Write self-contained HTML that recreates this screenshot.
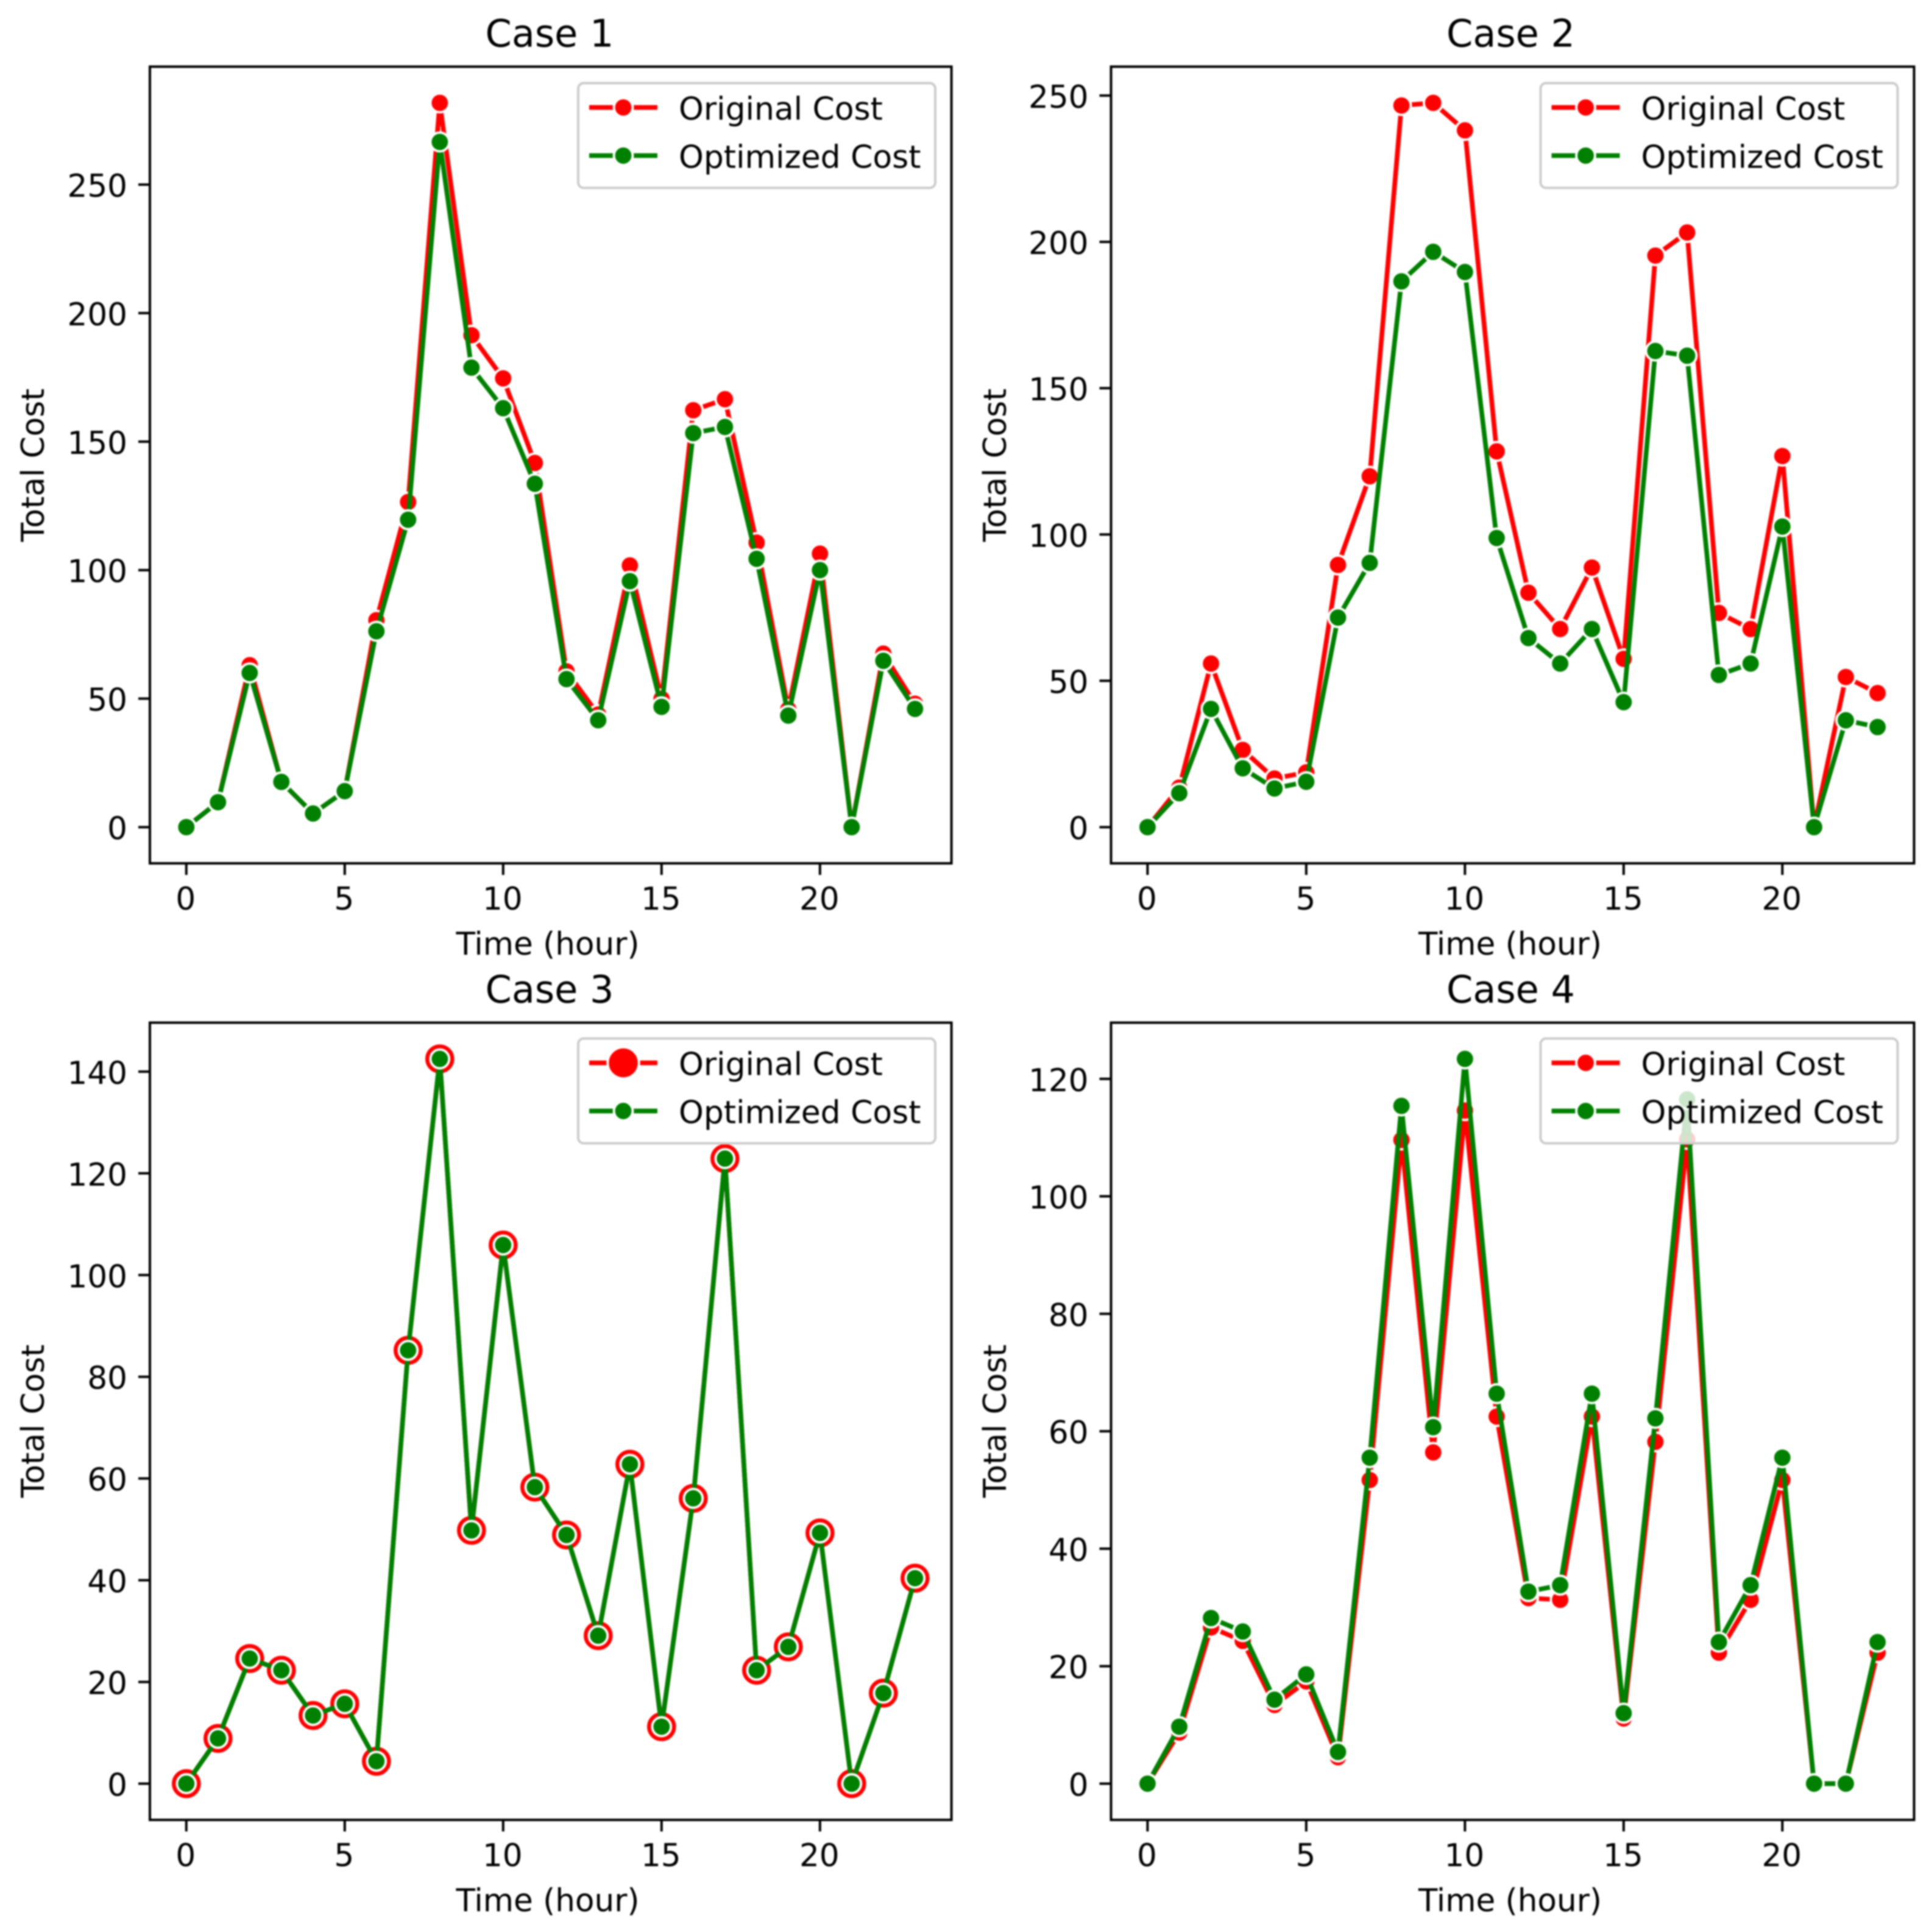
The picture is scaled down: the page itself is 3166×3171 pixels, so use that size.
<!DOCTYPE html>
<html lang="en">
<head>
<meta charset="utf-8">
<title>Original vs Optimized Cost by Case</title>
<style>
html,body{margin:0;padding:0;background:#fff;width:3166px;height:3171px;overflow:hidden}
svg{display:block;filter:blur(1.2px)}
text{font-family:"DejaVu Sans","Liberation Sans",sans-serif;fill:#000}
.tick-label,.axis-label{font-size:51.6px}
.legend-label{font-size:51.9px}
.chart-title{font-size:62px}
</style>
</head>
<body>
<svg id="figure" xmlns="http://www.w3.org/2000/svg" width="3166" height="3171" viewBox="0 0 3166 3171">
  <rect width="3166" height="3171" fill="#fff"/>

  <g id="case-1" transform="translate(246,109.4)">
    <text class="chart-title" x="656" y="-33" text-anchor="middle">Case 1</text>
    <g class="marks"></g>
    <g class="ticks"></g>
    <rect class="frame" x="0" y="0" width="1315.6" height="1307.6" fill="none" stroke="#000" stroke-width="4"/>
    <text class="axis-label" x="653" y="1457.6" text-anchor="middle">Time (hour)</text>
    <text class="axis-label" transform="translate(-174,654) rotate(-90)" text-anchor="middle">Total Cost</text>
    <g class="legend" transform="translate(703,27)">
      <rect x="0" y="0" width="586" height="172" rx="9" fill="#fff" fill-opacity="0.8" stroke="#ccc" stroke-width="4"/>
      <g>
        <line x1="18" x2="130" y1="40" y2="40" stroke="#f00" stroke-width="7.7"/>
        <circle cx="74" cy="40" r="15.4" fill="#f00" stroke="#fff" stroke-width="3.9"/>
        <text class="legend-label" x="165" y="60">Original Cost</text>
      </g>
      <g>
        <line x1="18" x2="130" y1="119" y2="119" stroke="#008000" stroke-width="7.7"/>
        <circle cx="74" cy="119" r="15.4" fill="#008000" stroke="#fff" stroke-width="3.9"/>
        <text class="legend-label" x="165" y="139">Optimized Cost</text>
      </g>
    </g>
  </g>

  <g id="case-2" transform="translate(1823.5,109.4)">
    <text class="chart-title" x="656" y="-33" text-anchor="middle">Case 2</text>
    <g class="marks"></g>
    <g class="ticks"></g>
    <rect class="frame" x="0" y="0" width="1318" height="1307.6" fill="none" stroke="#000" stroke-width="4"/>
    <text class="axis-label" x="655" y="1457.6" text-anchor="middle">Time (hour)</text>
    <text class="axis-label" transform="translate(-172.5,654) rotate(-90)" text-anchor="middle">Total Cost</text>
    <g class="legend" transform="translate(705,27)">
      <rect x="0" y="0" width="586" height="172" rx="9" fill="#fff" fill-opacity="0.8" stroke="#ccc" stroke-width="4"/>
      <g>
        <line x1="18" x2="130" y1="40" y2="40" stroke="#f00" stroke-width="7.7"/>
        <circle cx="74" cy="40" r="15.4" fill="#f00" stroke="#fff" stroke-width="3.9"/>
        <text class="legend-label" x="165" y="60">Original Cost</text>
      </g>
      <g>
        <line x1="18" x2="130" y1="119" y2="119" stroke="#008000" stroke-width="7.7"/>
        <circle cx="74" cy="119" r="15.4" fill="#008000" stroke="#fff" stroke-width="3.9"/>
        <text class="legend-label" x="165" y="139">Optimized Cost</text>
      </g>
    </g>
  </g>

  <g id="case-3" transform="translate(246,1678.5)">
    <text class="chart-title" x="656" y="-33" text-anchor="middle">Case 3</text>
    <g class="marks"></g>
    <g class="ticks"></g>
    <rect class="frame" x="0" y="0" width="1315.6" height="1308.5" fill="none" stroke="#000" stroke-width="4"/>
    <text class="axis-label" x="653" y="1458.5" text-anchor="middle">Time (hour)</text>
    <text class="axis-label" transform="translate(-174,654) rotate(-90)" text-anchor="middle">Total Cost</text>
    <g class="legend" transform="translate(703,26)">
      <rect x="0" y="0" width="586" height="172" rx="9" fill="#fff" fill-opacity="0.8" stroke="#ccc" stroke-width="4"/>
      <g>
        <line x1="18" x2="130" y1="40" y2="40" stroke="#f00" stroke-width="7.7"/>
        <circle cx="74" cy="40" r="25.7" fill="#f00" stroke="#fff" stroke-width="3.9"/>
        <text class="legend-label" x="165" y="60">Original Cost</text>
      </g>
      <g>
        <line x1="18" x2="130" y1="119" y2="119" stroke="#008000" stroke-width="7.7"/>
        <circle cx="74" cy="119" r="15.4" fill="#008000" stroke="#fff" stroke-width="3.9"/>
        <text class="legend-label" x="165" y="139">Optimized Cost</text>
      </g>
    </g>
  </g>

  <g id="case-4" transform="translate(1823.5,1678.5)">
    <text class="chart-title" x="656" y="-33" text-anchor="middle">Case 4</text>
    <g class="marks"></g>
    <g class="ticks"></g>
    <rect class="frame" x="0" y="0" width="1318" height="1308.5" fill="none" stroke="#000" stroke-width="4"/>
    <text class="axis-label" x="655" y="1458.5" text-anchor="middle">Time (hour)</text>
    <text class="axis-label" transform="translate(-172.5,654) rotate(-90)" text-anchor="middle">Total Cost</text>
    <g class="legend" transform="translate(705,26)">
      <rect x="0" y="0" width="586" height="172" rx="9" fill="#fff" fill-opacity="0.8" stroke="#ccc" stroke-width="4"/>
      <g>
        <line x1="18" x2="130" y1="40" y2="40" stroke="#f00" stroke-width="7.7"/>
        <circle cx="74" cy="40" r="15.4" fill="#f00" stroke="#fff" stroke-width="3.9"/>
        <text class="legend-label" x="165" y="60">Original Cost</text>
      </g>
      <g>
        <line x1="18" x2="130" y1="119" y2="119" stroke="#008000" stroke-width="7.7"/>
        <circle cx="74" cy="119" r="15.4" fill="#008000" stroke="#fff" stroke-width="3.9"/>
        <text class="legend-label" x="165" y="139">Optimized Cost</text>
      </g>
    </g>
  </g>
</svg>

<script>
const hours = [0,1,2,3,4,5,6,7,8,9,10,11,12,13,14,15,16,17,18,19,20,21,22,23];
const xTickValues = [0,5,10,15,20];
const xTickLabels = ['0','5','10','15','20'];

const case1Original = [0,9.7,63,17.6,5.3,14,80.5,126.5,281.8,191.4,174.6,141.7,60.6,43.8,101.8,49.9,162.2,166.5,110.7,45.8,106.4,0,67.5,48];
const case1Optimized = [0,9.7,60,17.6,5.3,14,76.2,119.6,266.6,178.8,163,133.6,57.6,41.6,95.7,46.8,153.3,155.7,104.4,43.4,100,0,64.7,46];
const case1YTicks = [0,50,100,150,200,250];
const case1YTickLabels = ['0','50','100','150','200','250'];

const case2Original = [0,13.5,55.9,26.4,16.6,18.7,89.6,119.9,246.6,247.5,238.1,128.4,80.1,67.7,88.7,57.5,195.3,203.2,73.2,67.7,126.8,0,51.3,45.8];
const case2Optimized = [0,11.6,40.4,20.1,13.2,15.5,71.6,90.3,186.5,196.6,189.7,98.8,64.6,55.9,67.7,42.7,162.7,161.1,52,55.9,102.7,0,36.5,34.2];
const case2YTicks = [0,50,100,150,200,250];
const case2YTickLabels = ['0','50','100','150','200','250'];

const case3Original = [0,8.9,24.6,22.3,13.4,15.7,4.4,85.2,142.5,49.8,105.9,58.3,48.9,29.1,62.8,11.2,56.1,122.9,22.3,26.9,49.3,0,17.8,40.4];
const case3Optimized = [0,8.9,24.6,22.3,13.4,15.7,4.4,85.2,142.5,49.8,105.9,58.3,48.9,29.1,62.8,11.2,56.1,122.9,22.3,26.9,49.3,0,17.8,40.4];
const case3YTicks = [0,20,40,60,80,100,120,140];
const case3YTickLabels = ['0','20','40','60','80','100','120','140'];

const case4Original = [0,8.7,26.6,24.3,13.4,17.4,4.5,51.7,109.6,56.4,114.6,62.5,31.6,31.3,62.5,11.1,58.2,109.7,22.3,31.3,51.7,0,0,22.3];
const case4Optimized = [0,9.7,28.2,25.9,14.3,18.6,5.4,55.5,115.4,60.7,123.4,66.4,32.7,33.8,66.4,12,62.2,116.5,24.1,33.8,55.5,0,0,24.1];
const case4YTicks = [0,20,40,60,80,100,120];
const case4YTickLabels = ['0','20','40','60','80','100','120'];

const NS = 'http://www.w3.org/2000/svg';
const MARGIN = 0.05;

function node(tag, parent, attrs) {
  const el = document.createElementNS(NS, tag);
  Object.keys(attrs).forEach(function (k) { el.setAttribute(k, attrs[k]); });
  parent.appendChild(el);
  return el;
}

function drawSeries(parent, xFn, yFn, values, color, radius, label) {
  const points = values.map(function (v, i) { return xFn(hours[i]).toFixed(2) + ',' + yFn(v).toFixed(2); }).join(' ');
  const line = node('polyline', parent, {points: points, fill: 'none', stroke: color, 'stroke-width': 7.7, 'stroke-linejoin': 'round', 'stroke-linecap': 'butt'});
  
  
  values.forEach(function (v, i) {
    const dot = node('circle', parent, {cx: xFn(hours[i]), cy: yFn(v), r: radius, fill: color, stroke: '#fff', 'stroke-width': 3.9});
    
    
  });
}

function drawPanel(id, original, optimized, yTicks, yTickLabels, originalRadius) {
  const panel = document.getElementById(id);
  const frame = panel.querySelector('.frame');
  const w = parseFloat(frame.getAttribute('width'));
  const h = parseFloat(frame.getAttribute('height'));

  const all = original.concat(optimized);
  const dataMin = Math.min.apply(null, all);
  const dataMax = Math.max.apply(null, all);
  const pad = (dataMax - dataMin) * MARGIN;
  const yLo = dataMin - pad;
  const yHi = dataMax + pad;
  const xFirst = Math.min.apply(null, hours);
  const xLast = Math.max.apply(null, hours);
  const xPad = (xLast - xFirst) * MARGIN;

  const xScale = function (v) { return (v - (xFirst - xPad)) / (xLast - xFirst + 2 * xPad) * w; };
  const yScale = function (v) { return h - (v - yLo) / (yHi - yLo) * h; };

  const marks = panel.querySelector('.marks');
  drawSeries(marks, xScale, yScale, original, '#f00', originalRadius, id + '-original-cost');
  drawSeries(marks, xScale, yScale, optimized, '#008000', 15.4, id + '-optimized-cost');

  const ticks = panel.querySelector('.ticks');
  xTickValues.forEach(function (t, i) {
    const mark = node('line', ticks, {x1: xScale(t), x2: xScale(t), y1: h, y2: h + 19, stroke: '#000', 'stroke-width': 4});
    
    
    const label = node('text', ticks, {x: xScale(t) - 1, y: h + 76, 'text-anchor': 'middle', 'class': 'tick-label'});
    label.textContent = xTickLabels[i];
    
    
  });
  yTicks.forEach(function (t, i) {
    const mark = node('line', ticks, {x1: -19, x2: 0, y1: yScale(t), y2: yScale(t), stroke: '#000', 'stroke-width': 4});
    
    
    const label = node('text', ticks, {x: -37, y: yScale(t) + 20, 'text-anchor': 'end', 'class': 'tick-label'});
    label.textContent = yTickLabels[i];
    
    
  });
}

drawPanel('case-1', case1Original, case1Optimized, case1YTicks, case1YTickLabels, 15.4);
drawPanel('case-2', case2Original, case2Optimized, case2YTicks, case2YTickLabels, 15.4);
drawPanel('case-3', case3Original, case3Optimized, case3YTicks, case3YTickLabels, 25.7);
drawPanel('case-4', case4Original, case4Optimized, case4YTicks, case4YTickLabels, 15.4);
</script>
</body>
</html>
